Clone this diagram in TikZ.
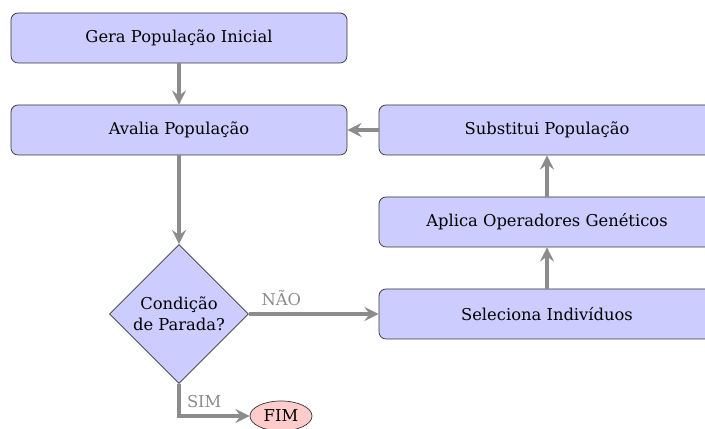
\documentclass[tikz,border=0pt]{standalone}
\usepackage{fontspec}
\setmainfont{DejaVu Serif}
\usetikzlibrary{shapes.geometric,arrows}

\begin{document}
\begin{tikzpicture}[>=stealth,
  font=\fontsize{9.3}{12}\selectfont,
  passo/.style={rectangle,rounded corners=4pt,draw=black!80,fill=blue!20,minimum width=6.72cm,minimum height=1cm},
  decisao/.style={diamond,aspect=1,draw=black!80,fill=blue!20,minimum size=2.78cm,inner sep=0pt,align=center},
  fim/.style={ellipse,draw=black!80,fill=red!20,minimum width=1.24cm,minimum height=0.6cm,inner sep=0pt},
  seta/.style={->,color=black!45,line width=2.5pt},
  rotulo/.style={text=black!45}]

  \useasboundingbox (0,0) rectangle (14.1,8.58);

    \node[passo] (gera) at (3.58,7.82) {Gera População Inicial};
    \node[passo] (avalia) at (3.58,5.98) {Avalia População};
    \node[decisao] (cond) at (3.58,2.30) {Condição\\de Parada?};
    \node[fim] (fim) at (5.62,0.26) {FIM};

    \node[passo] (subst) at (10.94,5.98) {Substitui População};
    \node[passo] (aplica) at (10.94,4.14) {Aplica Operadores Genéticos};
    \node[passo] (sel) at (10.94,2.30) {Seleciona Indivíduos};

  \path[seta]
  (gera) edge (avalia)
  (avalia) edge (cond)
  (cond) edge node[rotulo,above,pos=0.25]{NÃO} (sel)
  (sel) edge (aplica)
  (aplica) edge (subst)
  (subst) edge (avalia);
  \draw[seta] (cond) |- node[rotulo,above right,pos=0.5]{SIM} (fim);
\end{tikzpicture}
\end{document}
